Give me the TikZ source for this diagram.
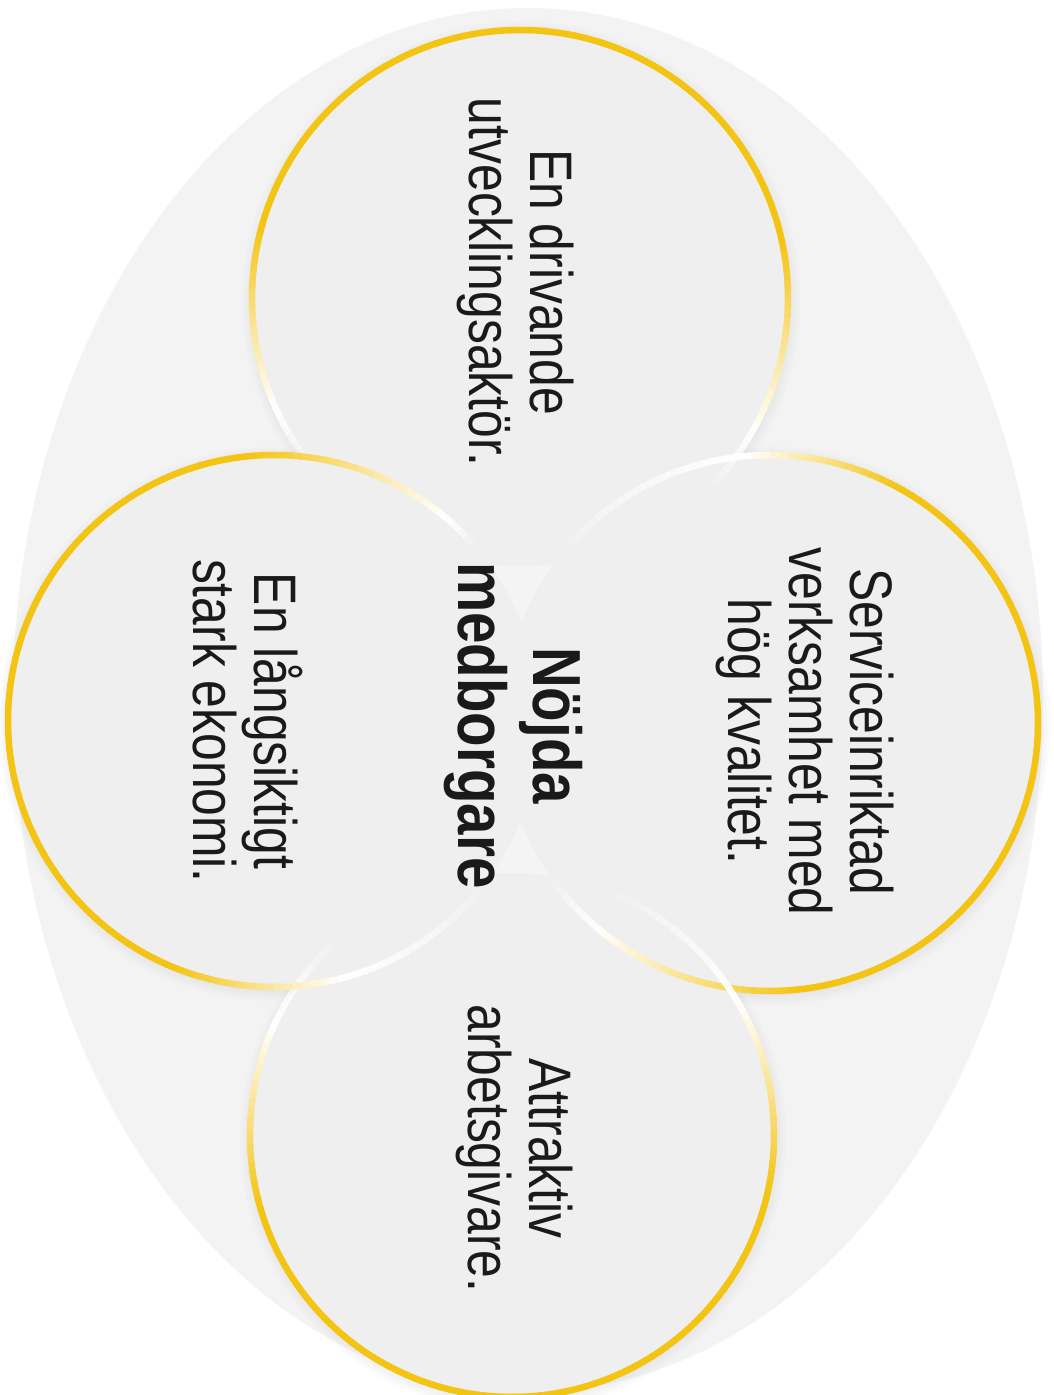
\documentclass[tikz,border=0pt]{standalone}
\usepackage{fontspec}
\setmainfont{Liberation Sans}[FakeStretch=0.83]
\definecolor{rimgold}{RGB}{244,196,20}
\definecolor{discfill}{RGB}{239,239,240}
\definecolor{backfill}{RGB}{243,243,243}
\definecolor{corefill}{RGB}{244,244,244}
\definecolor{inkc}{RGB}{26,26,26}
\definecolor{shadowc}{RGB}{90,90,120}
% #1 node, #2 radius, #3 peak angle, #4 yellow extent cw, #5 visible extent cw, #6 yellow extent ccw, #7 visible extent ccw
\newcommand\goldrim[7]{%
  \foreach \t in {0,2,...,358}{%
    \pgfmathsetmacro\dd{mod(\t+1-#3+540,360)-180}%
    \pgfmathsetmacro\aa{abs(\dd)}%
    \pgfmathsetmacro\YY{\dd<0 ? #4 : #6}%
    \pgfmathsetmacro\VV{\dd<0 ? #5 : #7}%
    \pgfmathtruncatemacro\mm{\aa<=0.65*\YY ? 100 : (\aa<=\YY ? 100*(\YY-\aa)/(0.35*\YY) : 0)}%
    \pgfmathsetmacro\oo{\aa<=\YY ? 1 : (\aa<=\VV ? (\VV-\aa)/(\VV-\YY) : 0)}%
    \pgfmathsetmacro\te{\t+2.3}%
    \draw[line width=6.5pt, draw=rimgold!\mm!white, draw opacity=\oo]
      ([shift={(\t:#2)}]#1.center) arc[start angle=\t, end angle=\te, radius=#2];
  }%
}
\newcommand\softshadow[2]{%
  \foreach \d in {2,5,8,11}{%
    \fill[shadowc, opacity=0.02] ([shift={(1,-3)}]#1.center) circle[radius=#2+\d];
  }%
}
\begin{document}
\begin{tikzpicture}[x=1pt,y=1pt,
  disc/.style={circle, fill=discfill, inner sep=0pt, minimum size=#1},
  circtext/.style={rotate=-90, align=center, text=inkc, inner sep=0pt,
    font=\fontsize{60}{61}\selectfont},
  centertext/.style={rotate=-90, align=center, text=inkc, inner sep=0pt,
    font=\bfseries\fontsize{68}{75}\selectfont}]
\useasboundingbox (0,0) rectangle (1054,1395);
\fill[white] (0,0) rectangle (1054,1395);
\fill[backfill] (528,695) ellipse[x radius=515, y radius=692];

\coordinate (ptop) at (520,1097);
\coordinate (pright) at (770,672);
\coordinate (pbottom) at (512,260);
\coordinate (pleft) at (274,674);

\softshadow{ptop}{268}
\softshadow{pright}{268}
\softshadow{pbottom}{262}
\softshadow{pleft}{266}
\fill[corefill] (518,690) ellipse[x radius=150, y radius=230];

\node[disc=536pt] (ctop) at (ptop) {};
\node[disc=536pt] (cright) at (pright) {};
\node[disc=524pt] (cbottom) at (pbottom) {};
\node[disc=532pt] (cleft) at (pleft) {};

\goldrim{ctop}{268}{90}{120}{135}{115}{130}
\goldrim{cright}{268}{0}{130}{145}{95}{145}
\goldrim{cbottom}{262}{270}{115}{140}{120}{160}
\goldrim{cleft}{266}{180}{130}{140}{105}{145}

\node[circtext] (ttop) at (515.5,1113) {En drivande\\utvecklingsaktör.};
\node[circtext] (tright) at (805.5,663.5) {Serviceinriktad\\verksamhet med\\hög kvalitet.};
\node[circtext] (tleft) at (247.5,674) {En långsiktigt\\stark ekonomi.};
\node[circtext] (tbottom) at (515,246.5) {Attraktiv\\arbetsgivare.};
\node[centertext] (tcenter) at (513.5,669.5) {Nöjda\\medborgare};
\end{tikzpicture}
\end{document}
